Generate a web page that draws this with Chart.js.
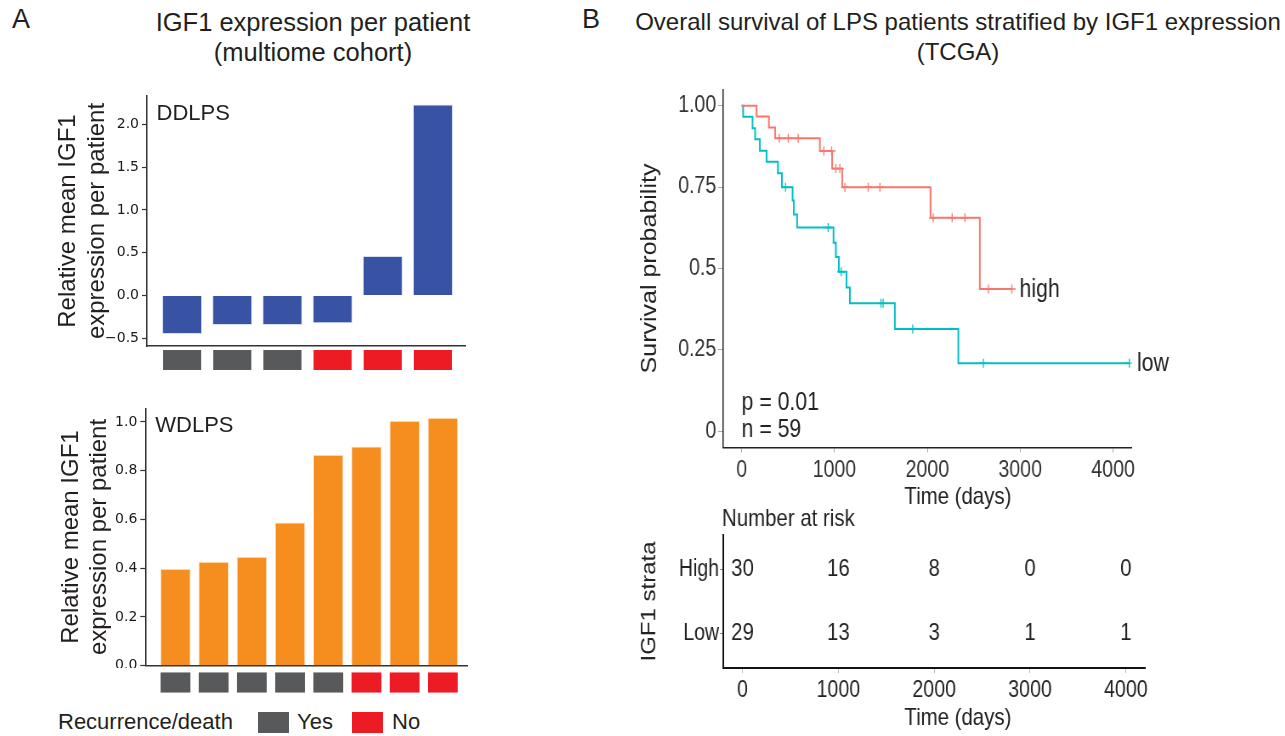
<!DOCTYPE html>
<html><head><meta charset="utf-8">
<script src="https://cdn.jsdelivr.net/npm/chart.js@4.4.1/dist/chart.umd.min.js"></script>
<style>
html,body{margin:0;padding:0;background:#fff;}
body{width:1285px;height:736px;position:relative;overflow:hidden;font-family:'Liberation Sans',Arial,sans-serif;color:#231f20;}
.t{position:absolute;white-space:nowrap;line-height:1;}
canvas{position:absolute;}
.sq{position:absolute;}
</style></head><body>
<div class="t" style="left:12px;top:6px;font-size:27px;">A</div>
<div class="t" style="left:582px;top:6px;font-size:27px;">B</div>
<div class="t" style="left:113px;width:400px;top:7px;font-size:25.5px;line-height:30px;text-align:center;">IGF1 expression per patient<br>(multiome cohort)</div>
<div class="t" style="left:608px;width:700px;top:7px;font-size:24px;line-height:30px;text-align:center;">Overall survival of LPS patients stratified by IGF1 expression<br>(TCGA)</div>
<div class="t" id="legTitle" style="left:58px;top:711px;font-size:22px;">Recurrence/death</div>
<div class="sq" style="left:258px;top:712px;width:31px;height:21px;background:#58595b;"></div>
<div class="t" style="left:297px;top:711px;font-size:22px;">Yes</div>
<div class="sq" style="left:352px;top:712px;width:31px;height:21px;background:#ed1c24;"></div>
<div class="t" style="left:392px;top:711px;font-size:22px;">No</div>

<canvas id="cDD" width="480" height="260" style="left:0;top:90px;width:480px;height:260px;"></canvas>
<canvas id="cDDi" width="480" height="28" style="left:0;top:346px;width:480px;height:28px;"></canvas>
<canvas id="cWD" width="480" height="268" style="left:0;top:400px;width:480px;height:268px;"></canvas>
<canvas id="cWDi" width="480" height="28" style="left:0;top:668px;width:480px;height:28px;"></canvas>
<canvas id="cKM" width="806" height="460" style="left:600px;top:60px;width:806px;height:460px;transform:scaleX(0.85);transform-origin:0 0;"></canvas>
<canvas id="cTab" width="806" height="236" style="left:600px;top:500px;width:806px;height:236px;transform:scaleX(0.85);transform-origin:0 0;"></canvas>

<script>
// ---------------- DATA ----------------
const ddlpsPatients = ['P1','P2','P3','P4','P5','P6'];
const ddlpsValues = [-0.45, -0.345, -0.345, -0.325, 0.46, 2.23];
const ddlpsRecurrence = ['Yes','Yes','Yes','No','No','No'];
const ddlpsTicks = [-0.5, 0, 0.5, 1, 1.5, 2];
const ddlpsTickLabels = ['\u22120.5','0.0','0.5','1.0','1.5','2.0'];

const wdlpsPatients = ['P1','P2','P3','P4','P5','P6','P7','P8'];
const wdlpsValues = [0.398, 0.426, 0.447, 0.587, 0.865, 0.899, 1.005, 1.017];
const wdlpsRecurrence = ['Yes','Yes','Yes','Yes','Yes','No','No','No'];
const wdlpsTicks = [0, 0.2, 0.4, 0.6, 0.8, 1.0];
const wdlpsTickLabels = ['0.0','0.2','0.4','0.6','0.8','1.0'];

const recurrenceColors = {Yes:'#58595b', No:'#ed1c24'};

const kmGroups = ['high','low'];
const highTimes = [0, 161, 294, 362, 843, 975, 1083, 2034, 2565, 2910];
const highSurv  = [1, 0.967, 0.933, 0.900, 0.861, 0.807, 0.750, 0.656, 0.437, 0.437];
const highCensor = [405, 502, 609, 886, 969, 1015, 1058, 1112, 1363, 1489, 2063, 2267, 2404, 2657, 2910];
const lowTimes = [0, 17, 118, 146, 197, 269, 391, 434, 549, 563, 598, 990, 1015, 1047, 1130, 1166, 1650, 2334, 4175];
const lowSurv  = [1, 0.966, 0.931, 0.897, 0.862, 0.828, 0.793, 0.750, 0.709, 0.666, 0.626, 0.579, 0.535, 0.490, 0.442, 0.393, 0.314, 0.209, 0.209];
const lowCensor = [473, 932, 1072, 1500, 1524, 1843, 2603, 4175];
const kmXTicks = [0, 1000, 2000, 3000, 4000];
const kmXTickLabels = ['0','1000','2000','3000','4000'];
const kmYTicks = [0, 0.25, 0.5, 0.75, 1];
const kmYTickLabels = ['0','0.25','0.5','0.75','1.00'];
const pValueText = 'p = 0.01';
const nText = 'n = 59';

const riskGroups = ['High','Low'];
const riskTimes = [0, 1000, 2000, 3000, 4000];
const riskTimeLabels = ['0','1000','2000','3000','4000'];
const riskHigh = [30, 16, 8, 0, 0];
const riskLow  = [29, 13, 3, 1, 1];

const kmColors = {high:'#F8766D', low:'#00BFC4'};
// --------------------------------------

const FONT = "'Liberation Sans', Arial, sans-serif";
function noPad(s){ s.paddingTop = 0; s.paddingBottom = 0; s.paddingLeft = 0; s.paddingRight = 0; }

function barChart(cfg){
  const labelPlugin = {
    id:'lbl'+cfg.id,
    afterDraw(chart){
      const c = chart.ctx, a = chart.chartArea;
      c.save();
      c.font = '22px ' + FONT; c.fillStyle = '#231f20';
      c.textAlign = 'left'; c.textBaseline = 'alphabetic';
      c.fillText(cfg.name, a.left + cfg.nameDx, a.top + 24);
      c.restore();
    }
  };
  return new Chart(document.getElementById(cfg.id), {
    type:'bar',
    data:{ datasets:[{
      label: cfg.name,
      data: cfg.values.map((v,i)=>({x:i, y:v})),
      backgroundColor: cfg.color, borderColor: cfg.edge, borderWidth: 1,
      barPercentage: 0.8, categoryPercentage: 1
    }]},
    options:{
      responsive:false, animation:false, events:[],
      layout:{padding:{top:cfg.padTop, right:cfg.padRight, left:0, bottom:0}},
      plugins:{legend:{display:false}, tooltip:{enabled:false}},
      scales:{
        x:{type:'linear', min:cfg.xMin, max:cfg.xMax, offset:false,
           ticks:{display:false}, grid:{display:false},
           border:{display:true, color:'#333', width:1.5},
           afterFit(s){ s.height = cfg.xH; noPad(s); }},
        y:{type:'linear', min:cfg.yMin, max:cfg.yMax,
           afterBuildTicks(s){ s.ticks = cfg.ticks.map(v=>({value:v})); },
           ticks:{callback:(v,i)=>cfg.tickLabels[i], font:{family:'DejaVu Sans', size:14}, color:'#1a1a1a', padding:3},
           grid:{display:true, drawOnChartArea:false, tickLength:5, color:'#333', tickWidth:1.2},
           border:{display:true, color:'#333', width:1.5},
           title:{display:true, text:['Relative mean IGF1','expression per patient'],
                  font:{family:FONT, size:24, lineHeight:1.2}, color:'#231f20',
                  padding:{top:cfg.titlePad, bottom:0}},
           afterFit(s){ s.width = cfg.yW; noPad(s); }}
      }
    },
    plugins:[labelPlugin]
  });
}

function stripChart(cfg){
  return new Chart(document.getElementById(cfg.id), {
    type:'bar',
    data:{ datasets:[{
      data: cfg.rec.map((r,i)=>({x:i, y:[0,1]})),
      backgroundColor: cfg.rec.map(r=>recurrenceColors[r]),
      borderWidth:0, barPercentage:cfg.bp, categoryPercentage:1
    }]},
    options:{
      responsive:false, animation:false, events:[],
      layout:{padding:{left:cfg.left, right:cfg.right, top:cfg.top, bottom:cfg.bottom}},
      plugins:{legend:{display:false}, tooltip:{enabled:false}},
      scales:{
        x:{type:'linear', display:false, min:cfg.xMin, max:cfg.xMax, offset:false},
        y:{display:false, min:0, max:1}
      }
    }
  });
}

barChart({id:'cDD', name:'DDLPS', values:ddlpsValues, color:'#3953a4', edge:'rgba(200,210,240,0.7)',
  padTop:6, padRight:15, xMin:-0.7, xMax:5.64, xH:4, yMin:-0.59, yMax:2.33,
  ticks:ddlpsTicks, tickLabels:ddlpsTickLabels, yW:147, titlePad:54, nameDx:9.5});
stripChart({id:'cDDi', rec:ddlpsRecurrence, bp:0.76, left:147, right:15, top:4, bottom:4, xMin:-0.7, xMax:5.64});

barChart({id:'cWD', name:'WDLPS', values:wdlpsValues, color:'#f68e1f', edge:'rgba(255,220,180,0.8)',
  padTop:8.3, padRight:12.3, xMin:-0.79, xMax:7.65, xH:2.3, yMin:0, yMax:1.056,
  ticks:wdlpsTicks, tickLabels:wdlpsTickLabels, yW:145.3, titlePad:56.5, nameDx:10});
stripChart({id:'cWDi', rec:wdlpsRecurrence, bp:0.78, left:145.3, right:12.3, top:4.3, bottom:3.3, xMin:-0.79, xMax:7.65});

// ---------- Kaplan-Meier ----------
function stepValue(times, surv, t){
  let s = surv[0];
  for (let i=0;i<times.length;i++){ if (times[i] <= t) s = surv[i]; }
  return s;
}
const kmPlugin = {
  id:'kmText',
  afterDraw(chart){
    const c = chart.ctx, a = chart.chartArea, xs = chart.scales.x;
    c.save();
    c.fillStyle = '#222'; c.font = '25px ' + FONT;
    c.textAlign = 'left'; c.textBaseline = 'middle';
    c.fillText(pValueText, xs.getPixelForValue(0), a.bottom - 44.5);
    c.fillText(nText, xs.getPixelForValue(0), a.bottom - 17.5);
    [0,1].forEach(di=>{
      const pts = chart.getDatasetMeta(di).data;
      const last = pts[pts.length-1];
      c.fillText(kmGroups[di], last.x + 9, last.y + 1);
    });
    c.textAlign = 'center';
    c.font = '24px ' + FONT;
    c.fillText('Time (days)', 421, 437);
    c.restore();
  }
};
new Chart(document.getElementById('cKM'), {
  type:'line',
  data:{ datasets:[
    {label:kmGroups[0], data:highTimes.map((t,i)=>({x:t, y:highSurv[i]})), borderColor:kmColors.high, borderWidth:2, pointRadius:0, stepped:'before', fill:false},
    {label:kmGroups[1], data:lowTimes.map((t,i)=>({x:t, y:lowSurv[i]})), borderColor:kmColors.low, borderWidth:2, pointRadius:0, stepped:'before', fill:false},
    {type:'scatter', data:highCensor.map(t=>({x:t, y:stepValue(highTimes, highSurv, t)})), showLine:false, pointStyle:'cross', pointRadius:4.5, borderColor:kmColors.high, borderWidth:1.3},
    {type:'scatter', data:lowCensor.map(t=>({x:t, y:stepValue(lowTimes, lowSurv, t)})), showLine:false, pointStyle:'cross', pointRadius:4.5, borderColor:kmColors.low, borderWidth:1.3}
  ]},
  options:{
    responsive:false, animation:false, events:[],
    layout:{padding:{top:29.5, right:180.5, left:0, bottom:0}},
    plugins:{legend:{display:false}, tooltip:{enabled:false}},
    scales:{
      x:{type:'linear', min:-200, max:4200,
         afterBuildTicks(s){ s.ticks = kmXTicks.map(v=>({value:v})); },
         ticks:{callback:(v,i)=>kmXTickLabels[i], font:{family:FONT, size:23}, color:'#333', padding:4, maxRotation:0, autoSkip:false},
         grid:{display:true, drawOnChartArea:false, tickLength:5, color:'#aaa'},
         border:{display:true, color:'#222', width:1.5},
         afterFit(s){ s.height = 72.5; noPad(s); }},
      y:{type:'linear', min:-0.05, max:1.05,
         afterBuildTicks(s){ s.ticks = kmYTicks.map(v=>({value:v})); },
         ticks:{callback:(v,i)=>kmYTickLabels[i], font:{family:FONT, size:23}, color:'#333', padding:2},
         grid:{display:true, drawOnChartArea:false, tickLength:6, color:'#aaa'},
         border:{display:true, color:'#222', width:1.5},
         title:{display:true, text:'Survival probability', font:{family:FONT, size:25, lineHeight:1.2}, color:'#222', padding:{top:43.8, bottom:0}},
         afterFit(s){ s.width = 144.7; noPad(s); }}
    }
  },
  plugins:[kmPlugin]
});

// ---------- Risk table ----------
const tabPlugin = {
  id:'tabText',
  afterDraw(chart){
    const c = chart.ctx, a = chart.chartArea;
    c.save();
    c.fillStyle = '#222'; c.font = '24px ' + FONT;
    c.textAlign = 'left'; c.textBaseline = 'middle';
    c.fillText('Number at risk', a.left - 1.5, 19);
    c.textAlign = 'center';
    chart.data.datasets.forEach((ds, di)=>{
      chart.getDatasetMeta(di).data.forEach((el, j)=>{
        c.fillText(String(ds.data[j].n), el.x, el.y);
      });
    });
    c.fillText('Time (days)', 421, 218);
    c.restore();
  }
};
new Chart(document.getElementById('cTab'), {
  type:'scatter',
  data:{ datasets:[
    {label:riskGroups[0], data:riskTimes.map((t,i)=>({x:t, y:1, n:riskHigh[i]})), pointRadius:0},
    {label:riskGroups[1], data:riskTimes.map((t,i)=>({x:t, y:2, n:riskLow[i]})), pointRadius:0}
  ]},
  options:{
    responsive:false, animation:false, events:[],
    layout:{padding:{top:35, right:164.8, left:0, bottom:0}},
    plugins:{legend:{display:false}, tooltip:{enabled:false}},
    scales:{
      x:{type:'linear', min:-200, max:4200,
         afterBuildTicks(s){ s.ticks = riskTimes.map(v=>({value:v})); },
         ticks:{callback:(v,i)=>riskTimeLabels[i], font:{family:FONT, size:23}, color:'#222', padding:4, maxRotation:0, autoSkip:false},
         grid:{display:true, drawOnChartArea:false, tickLength:5, color:'#bbb'},
         border:{display:true, color:'#111', width:2},
         afterFit(s){ s.height = 68; noPad(s); }},
      y:{type:'linear', min:0.45, max:2.55, reverse:true,
         afterBuildTicks(s){ s.ticks = [1,2].map(v=>({value:v})); },
         ticks:{callback:(v)=>riskGroups[v-1], font:{family:FONT, size:23}, color:'#222', padding:1},
         grid:{display:true, drawOnChartArea:false, tickLength:4, color:'#888'},
         border:{display:true, color:'#111', width:2},
         title:{display:true, text:'IGF1 strata', font:{family:FONT, size:24, lineHeight:1.2}, color:'#222', padding:{top:44, bottom:0}},
         afterFit(s){ s.width = 145.1; noPad(s); }}
    }
  },
  plugins:[tabPlugin]
});
</script>
</body></html>
